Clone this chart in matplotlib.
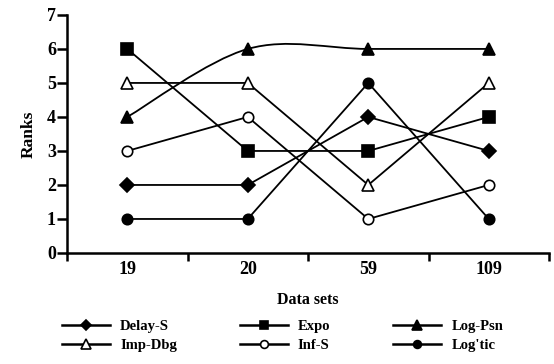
import numpy as np
import matplotlib
matplotlib.use("Agg")
import matplotlib.pyplot as plt
from matplotlib.path import Path
from matplotlib.patches import PathPatch
from matplotlib.lines import Line2D

plt.rcParams['font.family'] = ['Liberation Serif', 'DejaVu Serif']
plt.rcParams['font.weight'] = 'bold'

data_sets = ['19', '20', '59', '109']
y_ticks = [0, 1, 2, 3, 4, 5, 6, 7]

delay_s = [2, 2, 4, 3]
expo = [6, 3, 3, 4]
log_psn = [4, 6, 6, 6]
imp_dbg = [5, 5, 2, 5]
inf_s = [3, 4, 1, 2]
logistic = [1, 1, 5, 1]


def smooth_path(xs, ys):
	"""Bezier path through the points, like a spreadsheet 'smoothed line'."""
	pts = np.column_stack([xs, ys]).astype(float)
	n = len(pts)
	verts = [pts[0]]
	codes = [Path.MOVETO]
	for i in range(n - 1):
		p0 = pts[max(i - 1, 0)]
		p1 = pts[i]
		p2 = pts[i + 1]
		p3 = pts[min(i + 2, n - 1)]
		verts += [p1 + (p2 - p0) / 6, p2 - (p3 - p1) / 6, p2]
		codes += [Path.CURVE4] * 3
	return Path(verts, codes)


fig = plt.figure(figsize=(5.54, 3.64), dpi=100)
ax = fig.add_axes([0.121, 0.305, 0.870, 0.654])

x = np.arange(len(data_sets))
lw = 1.3

series = [
	('Delay-S', delay_s, 'D', 'black', 7),
	('Expo', expo, 's', 'black', 8),
	('Log-Psn', log_psn, '^', 'black', 9),
	('Imp-Dbg', imp_dbg, '^', 'white', 9),
	('Inf-S', inf_s, 'o', 'white', 7.5),
	("Log'tic", logistic, 'o', 'black', 7.5),
]

handles = {}
for name, vals, mk, fc, size in series:
	if name == 'Log-Psn':
		ax.add_patch(PathPatch(smooth_path(x, vals), fill=False, edgecolor='black', lw=lw, zorder=2))
		ax.plot(x, vals, linestyle='none', marker=mk, markersize=size,
			markerfacecolor=fc, markeredgecolor='black', markeredgewidth=1.2, zorder=3)
	else:
		ax.plot(x, vals, color='black', lw=lw, marker=mk, markersize=size,
			markerfacecolor=fc, markeredgecolor='black', markeredgewidth=1.2, zorder=3)
	handles[name] = Line2D([], [], color='black', lw=1.8, marker=mk, markersize=size * 0.75,
		markerfacecolor=fc, markeredgecolor='black', markeredgewidth=1.2)

ax.set_xlim(-0.5, 3.5)
ax.set_ylim(0, 7)

for side in ['top', 'right']:
	ax.spines[side].set_visible(False)
for side in ['left', 'bottom']:
	ax.spines[side].set_linewidth(1.8)

ax.set_yticks(y_ticks)
ax.tick_params(axis='y', direction='out', length=7, width=1.8, pad=1, labelsize=13)
ax.set_xticks(np.arange(-0.5, 4, 1))
ax.set_xticklabels([])
ax.tick_params(axis='x', which='major', direction='out', length=6, width=1.8)
ax.set_xticks(x, minor=True)
ax.set_xticklabels(data_sets, minor=True)
ax.tick_params(axis='x', which='minor', length=0, pad=6, labelsize=13)
for lab in ax.get_xticklabels(minor=True) + ax.get_yticklabels():
	lab.set_fontweight('bold')

ax.set_ylabel('Ranks', fontsize=12.5, fontweight='bold', labelpad=7)
ax.set_xlabel('Data sets', fontsize=11.5, fontweight='bold', labelpad=10)

order = ['Delay-S', 'Imp-Dbg', 'Expo', 'Inf-S', 'Log-Psn', "Log'tic"]
fig.legend([handles[k] for k in order], order, ncol=3, loc='center',
	bbox_to_anchor=(0.510, 0.078), frameon=False,
	handlelength=3.3, handletextpad=0.7, columnspacing=4.3,
	labelspacing=0.4, prop={'weight': 'bold', 'size': 10.5})

fig.savefig('out.png', dpi=100)
